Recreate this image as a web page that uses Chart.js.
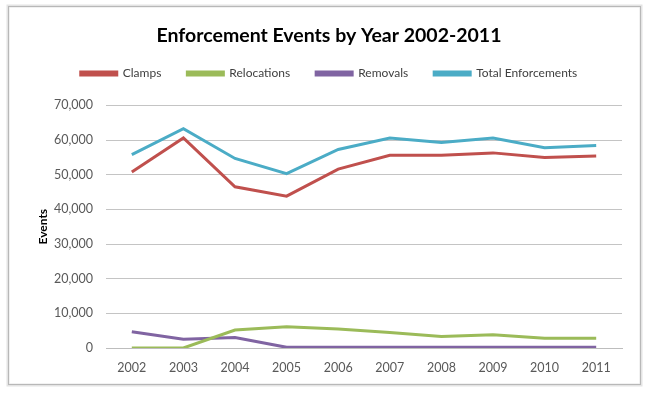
<!DOCTYPE html>
<html>
<head>
<meta charset="utf-8">
<script src="https://cdn.jsdelivr.net/npm/chart.js@4.4.1/dist/chart.umd.min.js"></script>
<style>
html,body{margin:0;padding:0;background:#fff;}
#wrap{position:absolute;left:0;top:0;width:650px;height:397px;}
</style>
</head>
<body>
<div id="wrap"><canvas id="c" width="650" height="397"></canvas></div>
<script>
const years = ['2002','2003','2004','2005','2006','2007','2008','2009','2010','2011'];
const clamps = [50800, 60600, 46500, 43800, 51600, 55600, 55600, 56300, 55000, 55400];
const relocations = [0, 0, 5200, 6100, 5500, 4500, 3300, 3800, 2800, 2800];
const removals = [4700, 2500, 3000, 200, 200, 200, 200, 200, 200, 200];
const totalEnforcements = [55800, 63300, 54700, 50300, 57300, 60600, 59300, 60600, 57800, 58400];
const seriesNames = ['Clamps', 'Relocations', 'Removals', 'Total Enforcements'];
const seriesColors = ['#C0504D', '#9BBB59', '#8064A2', '#4BACC6'];

const FONT = 'Lato, "Open Sans", sans-serif';

const framePlugin = {
  id: 'frame',
  beforeInit(chart) {
    const fit = chart.legend.fit;
    chart.legend.fit = function () {
      fit.call(this);
      this.height += 4;
    };
  },
  afterLayout(chart) {
    chart.legend.top -= 12;
    chart.legend.bottom -= 12;
  },
  beforeDraw(chart) {
    const ctx = chart.ctx;
    ctx.save();
    ctx.fillStyle = '#ffffff';
    ctx.fillRect(0, 0, chart.width, chart.height);
    ctx.strokeStyle = '#e4e4e4';
    ctx.lineWidth = 3;
    ctx.strokeRect(8, 6, 633, 379);
    ctx.strokeStyle = '#b8b8b8';
    ctx.lineWidth = 1;
    ctx.strokeRect(8.5, 6.5, 632, 378);
    ctx.restore();
  }
};

const datasets = [clamps, relocations, removals, totalEnforcements].map((d, i) => ({
  label: seriesNames[i],
  data: d,
  borderColor: seriesColors[i],
  backgroundColor: seriesColors[i],
  borderWidth: 3,
  pointRadius: 0,
  tension: 0
}));

new Chart(document.getElementById('c'), {
  type: 'line',
  data: { labels: years, datasets },
  plugins: [framePlugin],
  options: {
    responsive: false,
    animation: false,
    devicePixelRatio: 1,
    layout: { padding: { left: 36, right: 28, top: 20, bottom: 19 } },
    plugins: {
      title: {
        display: true,
        text: 'Enforcement Events by Year 2002-2011',
        color: '#000',
        font: { family: FONT, size: 19.5, weight: 'bold' },
        padding: { top: 4, bottom: 6 }
      },
      legend: {
        display: true,
        labels: {
          boxWidth: 36,
          boxHeight: 3,
          padding: 26,
          color: '#404040',
          font: { family: FONT, size: 12 }
        }
      },
      tooltip: { enabled: false }
    },
    scales: {
      x: {
        offset: true,
        grid: { display: false, drawTicks: false },
        border: { display: true, color: '#bdbdbd', width: 1 },
        ticks: { color: '#595959', font: { family: FONT, size: 12.5 }, padding: 12, maxRotation: 0 },
        afterFit(s) { s.height = 30; }
      },
      y: {
        min: 0, max: 70000,
        ticks: {
          stepSize: 10000,
          color: '#595959',
          font: { family: FONT, size: 12.5 },
          padding: 13,
          callback: v => v.toLocaleString('en-US')
        },
        grid: { color: '#c4c4c4', drawTicks: false, lineWidth: 1 },
        border: { display: false },
        title: {
          display: true,
          text: 'Events',
          color: '#000',
          font: { family: FONT, size: 12, weight: 'bold' },
          padding: 0
        },
        afterFit(s) { s.width = 70; }
      }
    }
  }
});
</script>
</body>
</html>
